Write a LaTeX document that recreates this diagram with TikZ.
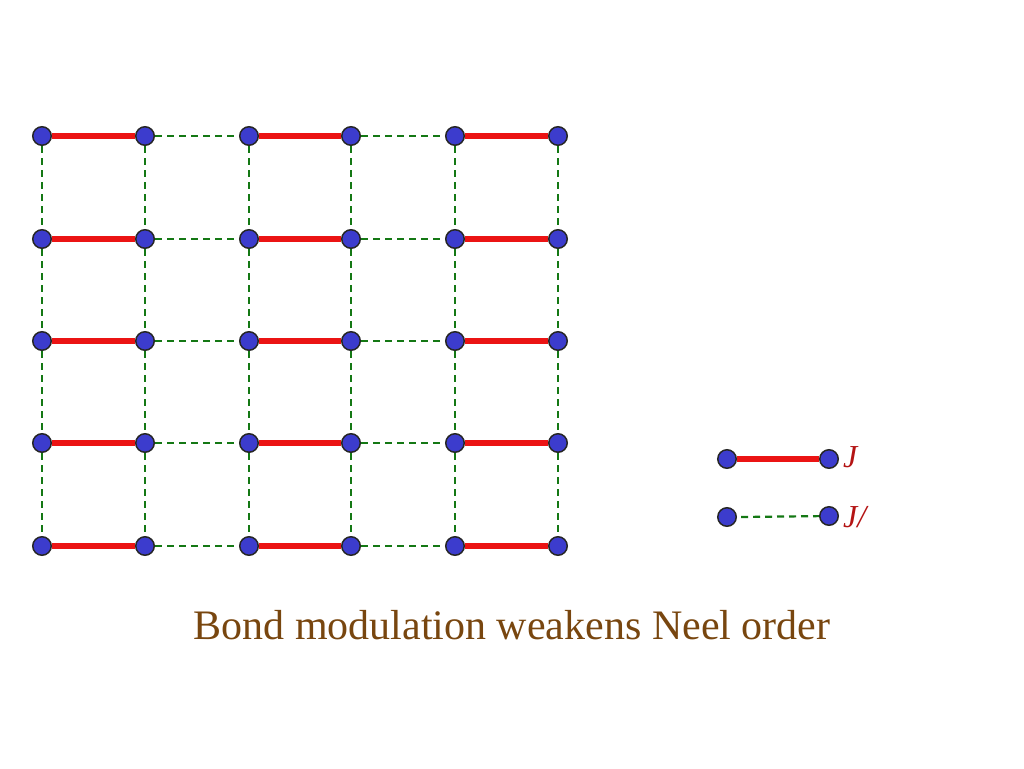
\documentclass[tikz,border=0pt]{standalone}
\usepackage{fontspec}
\setmainfont{Liberation Serif}
\usetikzlibrary{backgrounds}
\definecolor{dotblue}{RGB}{60,60,205}
\definecolor{bondred}{RGB}{235,20,20}
\definecolor{bondgreen}{RGB}{20,120,20}
\definecolor{labred}{RGB}{180,20,20}
\definecolor{txtbrown}{RGB}{120,70,15}
\tikzset{
  site/.style={circle,draw=black!85,line width=1.5pt,fill=dotblue,minimum size=18.5pt,inner sep=0pt},
  strong/.style={draw=bondred,line width=5.5pt},
  weak/.style={draw=bondgreen,line width=2.2pt,dash pattern=on 7pt off 5pt},
}
\begin{document}
\begin{tikzpicture}[x=1pt,y=-1pt]
\useasboundingbox (0,0) rectangle (1024,768);
% grid sites
\foreach \i/\x in {1/42,2/145,3/249,4/351,5/455,6/558}{
  \foreach \j/\y in {1/136,2/239,3/341,4/443,5/546}{
    \node[site] (s\i\j) at (\x,\y) {};
  }
}
\begin{scope}[on background layer]
% vertical weak bonds
\foreach \i in {1,...,6}{
  \foreach \j/\k in {1/2,2/3,3/4,4/5}{
    \draw[weak] (s\i\j) -- (s\i\k);
  }
}
% horizontal bonds
\foreach \j in {1,...,5}{
  \draw[strong] (s1\j) -- (s2\j);
  \draw[weak] (s2\j) -- (s3\j);
  \draw[strong] (s3\j) -- (s4\j);
  \draw[weak] (s4\j) -- (s5\j);
  \draw[strong] (s5\j) -- (s6\j);
}
\end{scope}
% legend
\node[site] (la) at (727,459) {};
\node[site] (lb) at (829,459) {};
\node[site] (lc) at (727,517) {};
\node[site] (ld) at (829,516) {};
\begin{scope}[on background layer]
\draw[strong] (la) -- (lb);
\draw[weak] ([xshift=4pt]lc.east) -- (ld);
\end{scope}
\node[anchor=west,text=labred,font=\fontsize{32}{34}\selectfont\itshape,inner sep=0pt] (jl) at (843,457) {J};
\node[anchor=west,text=labred,font=\fontsize{32}{34}\selectfont\itshape,inner sep=0pt] (jp) at (843,517) {J/};
\node[text=txtbrown,font=\fontsize{42}{46}\selectfont,inner sep=0pt] (title) at (512,625) {Bond modulation weakens Neel order};
\end{tikzpicture}
\end{document}
